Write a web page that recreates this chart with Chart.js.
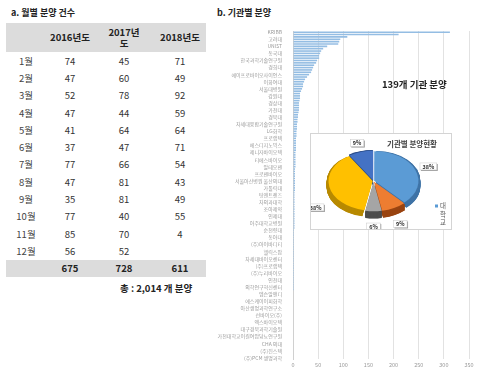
<!DOCTYPE html>
<html>
<head>
<meta charset="utf-8">
<script src="https://cdn.jsdelivr.net/npm/chart.js@4.4.1/dist/chart.umd.min.js"></script>
<style>
  body { margin: 0; background: #fff; font-family: "Noto Sans CJK KR", sans-serif; }
  #page { position: relative; width: 483px; height: 374px; overflow: hidden; }
  .title { position: absolute; top: 6px; font-size: 9px; font-weight: bold; color: #222; }
  table { position: absolute; left: 6px; top: 23px; border-collapse: collapse; font-size: 9.5px; color: #333; }
  td, th { padding: 0; text-align: center; }
  thead th { background: #dcdcdc; height: 29px; font-weight: bold; color: #222; line-height: 11px; }
  tbody td { height: 17.3px; }
  tbody td.m { color: #444; }
  tfoot td { background: #dcdcdc; height: 17.3px; font-weight: bold; color: #222; }
  #total { position: absolute; left: 120px; top: 281px; font-size: 9.5px; font-weight: bold; color: #222; }
  #barBox { position: absolute; left: 215px; top: 25px; width: 268px; height: 349px; }
  #count { position: absolute; left: 382px; top: 77px; font-size: 9.5px; font-weight: bold; color: #222; }
  #pieBox { position: absolute; left: 310px; top: 133px; width: 142px; height: 97px; background: #fff; border: 1px solid #d4d4d4; box-sizing: border-box; }
</style>
</head>
<body>
<div id="page">
  <div class="title" style="left:11px">a. 월별 분양 건수</div>
  <div class="title" style="left:217px">b. 기관별 분양</div>
  <table id="tbl"></table>
  <div id="total">총 : 2,014 개 분양</div>
  <div id="barBox"><canvas id="bar"></canvas></div>
  <div id="count">139개 기관 분양</div>
  <div id="pieBox"><canvas id="pie"></canvas></div>
</div>
<script>
// monthly table
var months = ['1월','2월','3월','4월','5월','6월','7월','8월','9월','10월','11월','12월'];
var years = ['2016년도', '2017년<br>도', '2018년도'];
var y2016 = [74, 47, 52, 47, 41, 37, 77, 47, 35, 77, 85, 56];
var y2017 = [45, 60, 78, 44, 64, 47, 66, 81, 81, 40, 70, 52];
var y2018 = [71, 49, 92, 59, 64, 71, 54, 43, 49, 55, 4, null];
var sums = [675, 728, 611];

// institutions (only every 3rd name is printed on the axis)
var shownNames = ['KRIBB','고려대','UNIST','동국대','한국과학기술연구원','경희대','에이프로바이오사이언스',
  '이화여대','서울대병원','강원대','경상대','가천대','경북대','차세대융합기술연구원','LG화학','프로랩텍',
  '에스디지노믹스','제니자바이오텍','티에스바이오','알테오젠','프로젠바이오','서울아산병원 울산의대','가톨릭대',
  '팅엔트렌즈','차의과대학','조아제약','인제대','아주대학교병원','순천향대','동아대','(주)아이바디티',
  '헬릭스팜','차세대바이오센터','(주)프로랩텍','(주)누리바이오','인천대','의학연구혁신센터','엠슨알앤디',
  '에스케이이피화학','아산생명과학연구소','선바이오(주)','엑스바이오텍','대구경북과학기술원',
  '가천대학교이길여암당뇨연구원','CHA 의대','(주)진스텍','(주)PCM 생명과학'];
var counts = [312, 210, 108, 94, 92, 90, 68, 60, 56, 54,
  52, 52, 48, 46, 42, 40, 38, 36, 32, 28,
  24, 22, 20, 20, 18, 16, 14, 14, 14, 13,
  12, 12, 12, 12, 11, 10, 10, 9, 9, 8,
  8, 8, 7, 7, 7, 6, 6, 6, 6, 6,
  6, 5, 5, 5, 5, 5, 5, 5, 4, 4,
  4, 4, 4, 4, 4, 4, 4, 4, 3, 3,
  3, 3, 3, 3, 3, 3, 3, 3, 3, 3,
  3, 3, 3, 3, 2, 2, 2, 2, 2, 2,
  2, 2, 2, 2, 2, 2, 2, 2, 2, 2,
  2, 2, 2, 2, 2, 2, 2, 2, 2, 2,
  1, 1, 1, 1, 1, 1, 1, 1, 1, 1,
  1, 1, 1, 1, 1, 1, 1, 1, 1, 1,
  1, 1, 1, 1, 1, 1, 1, 1, 1];
var xTicks = [0, 50, 100, 150, 200, 250, 300, 350];

// pie inset
var pieLabels = ['대학교', '기업', '병원', '연구소', '기타'];
var pieShare = [38, 9, 6, 38, 9];
var pieColors = ['#5b9bd5', '#ed7d31', '#a5a5a5', '#ffc000', '#4472c4'];
var pieSides = ['#3f73a6', '#9a4512', '#4d4d4d', '#b88a00', '#2b4e8c'];

var FONT = '"Noto Sans CJK KR", sans-serif';

// build table
var html = '<colgroup><col style="width:40px"><col style="width:48px"><col style="width:60px"><col style="width:52px"></colgroup>';
html += '<thead><tr><th></th>' + years.map(function (y) { return '<th>' + y + '</th>'; }).join('') + '</tr></thead><tbody>';
months.forEach(function (m, i) {
  html += '<tr><td class="m">' + m + '</td><td>' + y2016[i] + '</td><td>' + y2017[i] + '</td><td>' +
    (y2018[i] == null ? '' : y2018[i]) + '</td></tr>';
});
html += '</tbody><tfoot><tr><td></td>' + sums.map(function (s) { return '<td>' + s + '</td>'; }).join('') + '</tr></tfoot>';
document.getElementById('tbl').innerHTML = html;

// bar chart
var labels = counts.map(function (v, i) { return i % 3 === 0 ? shownNames[i / 3] : ''; });

new Chart(document.getElementById('bar'), {
  type: 'bar',
  data: {
    labels: labels,
    datasets: [{
      data: counts,
      backgroundColor: '#94bde3',
      barPercentage: 0.68,
      categoryPercentage: 1
    }]
  },
  options: {
    indexAxis: 'y',
    responsive: true,
    maintainAspectRatio: false,
    animation: false,
    layout: { padding: { top: 6, right: 14, left: 0, bottom: 0 } },
    plugins: { legend: { display: false }, tooltip: { enabled: false } },
    scales: {
      x: {
        min: 0, max: 350,
        afterBuildTicks: function (s) { s.ticks = xTicks.map(function (v) { return { value: v }; }); },
        afterFit: function (s) { s.height = 15; },
        grid: { color: '#e2e2e2', drawTicks: false },
        border: { display: false },
        ticks: { font: { size: 5.5, family: FONT }, color: '#999', padding: 3 }
      },
      y: {
        afterFit: function (s) { s.width = 78; },
        grid: { display: false },
        border: { color: '#d0d0d0' },
        ticks: { autoSkip: false, font: { size: 5, family: FONT }, color: '#9a9a9a', padding: 3 }
      }
    }
  }
});

// pie with a fake 3D side
var K = 0.67, DEPTH = 6;
var pie3d = {
  id: 'pie3d',
  beforeDatasetsDraw: function (chart) {
    var ctx = chart.ctx, arcs = chart.getDatasetMeta(0).data;
    var cy = arcs[0].y;
    ctx.save();
    ctx.translate(0, cy); ctx.scale(1, K); ctx.translate(0, -cy);
    for (var d = DEPTH / K; d > 0; d -= 0.5) {
      arcs.forEach(function (a, i) {
        var mid = (a.startAngle + a.endAngle) / 2, off = a.options.offset;
        var x = a.x + Math.cos(mid) * off, y = a.y + Math.sin(mid) * off + d;
        ctx.beginPath();
        ctx.moveTo(x, y);
        ctx.arc(x, y, a.outerRadius, a.startAngle, a.endAngle);
        ctx.closePath();
        ctx.fillStyle = pieSides[i];
        ctx.fill();
      });
    }
  },
  afterDatasetsDraw: function (chart) {
    var ctx = chart.ctx, arcs = chart.getDatasetMeta(0).data;
    ctx.restore();
    ctx.save();
    ctx.font = 'bold 5.5px ' + FONT;
    ctx.textAlign = 'center';
    ctx.textBaseline = 'middle';
    arcs.forEach(function (a, i) {
      // leader-style placement: a bit further out and lower on the front half
      var mid = (a.startAngle + a.endAngle) / 2, r = a.outerRadius + 15;
      var s = Math.sin(mid);
      var x = a.x + Math.cos(mid) * r;
      var y = a.y + s * r * K + (s > 0 ? DEPTH + 16 * (1 - s) : 0);
      var t = pieShare[i] + '%', w = ctx.measureText(t).width + 5;
      ctx.fillStyle = '#9a9a9a';
      ctx.fillRect(x - w / 2 + 1, y - 3.5 + 1, w, 7);
      ctx.fillStyle = '#fff';
      ctx.fillRect(x - w / 2, y - 3.5, w, 7);
      ctx.strokeStyle = '#c8c8c8';
      ctx.lineWidth = 0.5;
      ctx.strokeRect(x - w / 2, y - 3.5, w, 7);
      ctx.fillStyle = '#333';
      ctx.fillText(t, x, y + 0.3);
    });
    // title
    ctx.font = 'bold 7.5px ' + FONT;
    ctx.fillStyle = '#404040';
    ctx.fillText('기관별 분양현황', 101, 10);
    // legend (label wraps one character per line)
    ctx.fillStyle = pieColors[0];
    ctx.fillRect(124, 70.5, 3, 3);
    ctx.font = '6.5px ' + FONT;
    ctx.fillStyle = '#595959';
    pieLabels[0].split('').forEach(function (ch, j) { ctx.fillText(ch, 132, 72 + j * 8.5); });
    ctx.restore();
  }
};

new Chart(document.getElementById('pie'), {
  type: 'pie',
  data: {
    labels: pieLabels,
    datasets: [{
      data: pieShare,
      backgroundColor: pieColors,
      borderWidth: 0,
      offset: 3,
      radius: 44
    }]
  },
  options: {
    responsive: true,
    maintainAspectRatio: false,
    animation: false,
    layout: { padding: { left: 0, right: 15, top: 0, bottom: 1 } },
    plugins: { legend: { display: false }, tooltip: { enabled: false } }
  },
  plugins: [pie3d]
});
</script>
</body>
</html>
